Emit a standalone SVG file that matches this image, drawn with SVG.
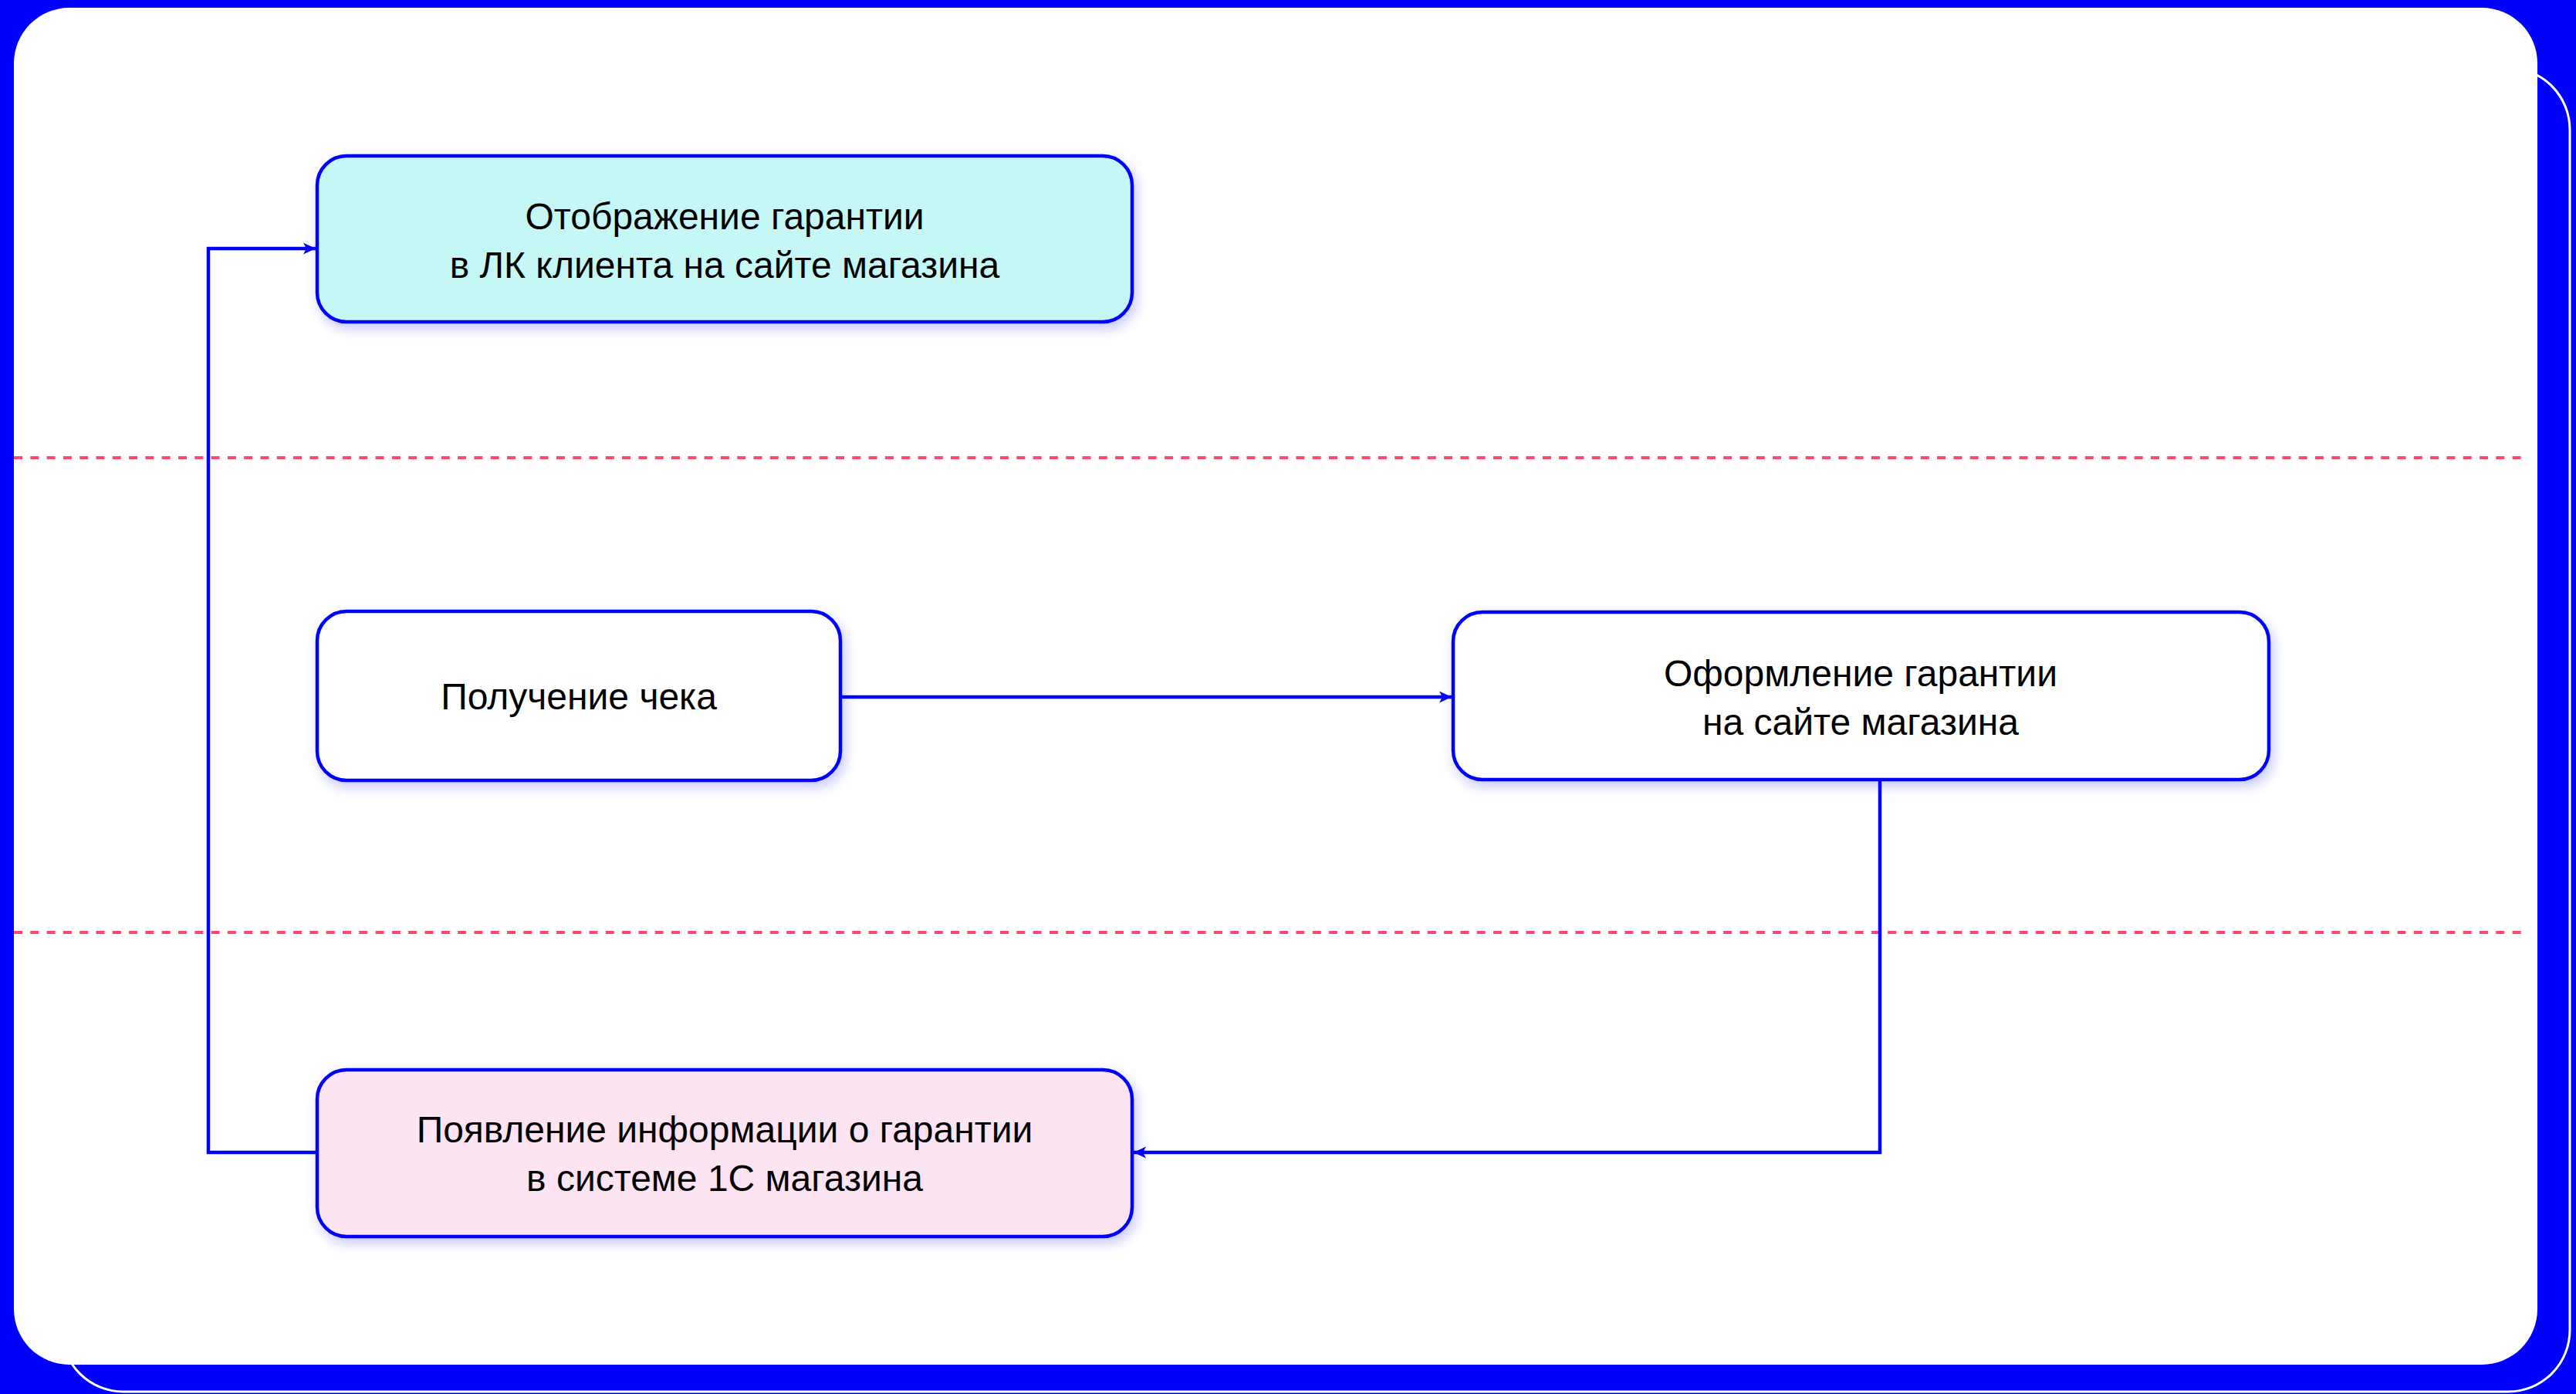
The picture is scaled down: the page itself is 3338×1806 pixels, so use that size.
<svg xmlns="http://www.w3.org/2000/svg" width="3338" height="1806" viewBox="0 0 3338 1806">
  <style>
    .node { stroke: #0000FF; stroke-width: 4.5; }
    .lbl { font-family: "Liberation Sans", Arial, sans-serif; font-size: 48px; fill: #000000; text-anchor: middle; }
    .conn { fill: none; stroke: #0000FF; stroke-width: 4.5; }
    .lane { fill: none; stroke: #FF4770; stroke-width: 4; stroke-dasharray: 11 10.3; }
  </style>
  <defs>
    <filter id="shadow" x="-10%" y="-20%" width="120%" height="150%">
      <feDropShadow dx="4" dy="7" stdDeviation="8" flood-color="#0000FF" flood-opacity="0.22"/>
    </filter>
    <marker id="arrow" markerUnits="userSpaceOnUse" viewBox="0 0 18 18" refX="17" refY="9" markerWidth="18" markerHeight="18" orient="auto">
      <path d="M17 9 L1 1.5 L5 9 L1 16.5 Z" fill="#0000FF"/>
    </marker>
  </defs>

  <rect x="0" y="0" width="3338" height="1806" fill="#0000FF"/>
  <rect x="80" y="88" width="3250" height="1715" rx="80" ry="80" fill="none" stroke="#FFFFFF" stroke-width="3"/>
  <rect x="18" y="10" width="3270" height="1758" rx="72" ry="72" fill="#FFFFFF"/>

  <g id="lanes">
    <line class="lane" x1="18" y1="593" x2="3274" y2="593"/>
    <line class="lane" x1="18" y1="1208" x2="3274" y2="1208"/>
  </g>

  <g id="connectors">
    <path class="conn" d="M411 1493 L270 1493 L270 322 L409 322" marker-end="url(#arrow)"/>
    <path class="conn" d="M1089 903 L1881 903" marker-end="url(#arrow)"/>
    <path class="conn" d="M2436 1010 L2436 1493 L1469 1493" marker-end="url(#arrow)"/>
  </g>

  <g id="node-display">
    <rect class="node" x="411" y="202" width="1056" height="215" rx="38" ry="38" fill="#C5F7F6" filter="url(#shadow)"/>
    <text class="lbl" x="939" y="297">Отображение гарантии</text>
    <text class="lbl" x="939" y="360">в ЛК клиента на сайте магазина</text>
  </g>

  <g id="node-receipt">
    <rect class="node" x="411" y="792" width="678" height="219" rx="38" ry="38" fill="#FFFFFF" filter="url(#shadow)"/>
    <text class="lbl" x="750" y="919">Получение чека</text>
  </g>

  <g id="node-register">
    <rect class="node" x="1883" y="793" width="1057" height="217" rx="38" ry="38" fill="#FFFFFF" filter="url(#shadow)"/>
    <text class="lbl" x="2411" y="889">Оформление гарантии</text>
    <text class="lbl" x="2411" y="952">на сайте магазина</text>
  </g>

  <g id="node-1c">
    <rect class="node" x="411" y="1386" width="1056" height="216" rx="38" ry="38" fill="#FCE4F3" filter="url(#shadow)"/>
    <text class="lbl" x="939" y="1480">Появление информации о гарантии</text>
    <text class="lbl" x="939" y="1543">в системе 1С магазина</text>
  </g>
</svg>
